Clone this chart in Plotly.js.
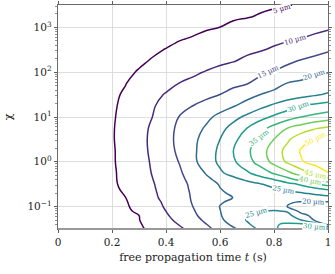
<!DOCTYPE html>
<html><head><meta charset="utf-8">
<script src="https://cdn.plot.ly/plotly-3.0.1.min.js"></script>
<style>html,body{margin:0;padding:0;background:#fff}#chart{width:335px;height:274px}</style>
</head><body><div id="chart"></div>
<script>
// free propagation time t (s)
const propagationTime = [0, 0.1, 0.2, 0.25, 0.3, 0.35, 0.4, 0.45, 0.5, 0.55, 0.6, 0.65, 0.7, 0.75, 0.8, 0.85, 0.9, 0.95, 1];
// log10(chi)
const logChi = [-1.5, -1.4, -1.3, -1.2, -1.1, -1.0, -0.9, -0.8, -0.7, -0.6, -0.5, -0.4, -0.25, 0, 0.25, 0.5, 0.75, 1, 1.25, 1.5, 1.75, 2, 2.25, 2.5, 2.75, 3, 3.25, 3.5];
// cloud size (µm), one row per logChi value
const cloudSize = [
  [1, 2.2, 3.4, 4.0, 4.6, 5.6, 7.5, 9.3, 11.3, 13.9, 16.5, 19.3, 22.5, 26.0, 29.6, 31.2, 32.0, 32.3, 32.5],
  [1, 2.2, 3.5, 4.1, 4.7, 6.1, 8.2, 10.2, 12.6, 14.9, 17.9, 21.0, 24.3, 27.0, 29.5, 30.8, 31.0, 29.0, 19.0],
  [1, 2.3, 3.6, 4.2, 4.9, 6.7, 8.9, 11.1, 13.4, 15.9, 19.1, 22.2, 25.3, 27.5, 29.0, 28.0, 25.0, 19.5, 17.6],
  [1, 2.3, 3.7, 4.3, 4.98, 7.3, 9.5, 11.8, 14.1, 16.8, 19.7, 22.1, 24.5, 26.5, 27.5, 26.5, 21.9, 18.5, 17.0],
  [1, 2.4, 3.8, 4.5, 5.5, 7.7, 10.02, 12.3, 14.6, 17.2, 19.9, 22.2, 23.7, 24.6, 25.4, 24.5, 18.5, 17.5, 17.2],
  [1, 2.4, 3.9, 4.6, 6.0, 8.2, 10.5, 12.7, 15.02, 17.6, 20.1, 21.6, 23.0, 23.4, 22.5, 19.9, 19.0, 18.5, 18.0],
  [1, 2.5, 4.0, 4.7, 6.5, 8.6, 10.8, 13.0, 15.3, 17.5, 19.7, 20.7, 21.4, 21.6, 21.2, 20.3, 19.8, 19.7, 19.6],
  [1, 2.6, 4.2, 4.97, 7.0, 9.1, 11.2, 13.4, 15.4, 17.0, 18.6, 20.1, 20.8, 21.0, 21.3, 21.8, 22.3, 22.9, 23.5],
  [1, 2.6, 4.3, 5.2, 7.2, 9.3, 11.4, 13.5, 15.5, 17.3, 19.5, 20.6, 21.3, 21.8, 22.5, 23.5, 24.6, 25.8, 27.0],
  [1, 2.7, 4.4, 5.5, 7.5, 9.5, 11.6, 13.6, 15.7, 17.9, 19.9, 21.2, 22.4, 23.6, 24.8, 26.2, 27.7, 29.2, 31.0],
  [1, 2.7, 4.5, 5.7, 7.7, 9.7, 11.6, 13.7, 15.9, 18.2, 20.3, 21.8, 23.2, 24.7, 26.5, 28.5, 30.6, 33.8, 37.0],
  [1, 2.7, 4.5, 5.9, 7.9, 9.9, 12.0, 14.0, 16.3, 19.0, 21.3, 23.5, 25.7, 27.8, 29.9, 33.1, 36.3, 39.4, 43.0],
  [1, 2.8, 4.5, 6.0, 8.1, 10.2, 12.3, 14.4, 17.2, 20.4, 24.2, 26.9, 29.3, 32.3, 35.6, 38.8, 42.5, 46.4, 49.8],
  [1, 2.8, 4.6, 6.2, 8.3, 10.5, 12.8, 15.2, 18.9, 22.5, 26.0, 29.3, 33.1, 37.1, 41.5, 45.8, 49.6, 51.6, 53.0],
  [1, 2.8, 4.6, 6.3, 8.5, 10.8, 13.3, 15.9, 19.1, 22.4, 26.0, 30.02, 34.0, 38.0, 42.3, 46.6, 50.4, 52.0, 53.5],
  [1, 2.8, 4.7, 6.4, 8.6, 10.9, 13.5, 16.2, 18.9, 21.9, 25.02, 28.8, 32.5, 36.2, 40.02, 44.2, 48.1, 50.5, 51.5],
  [1, 2.8, 4.7, 6.3, 8.4, 10.7, 13.4, 15.9, 18.2, 20.6, 23.5, 26.7, 30.02, 33.3, 36.7, 40.02, 42.3, 44.5, 46.0],
  [1, 2.8, 4.6, 6.1, 8.1, 10.02, 12.6, 15.2, 17.1, 19.0, 21.2, 23.6, 26.0, 28.5, 30.8, 32.9, 35.0, 36.3, 37.5],
  [1, 2.8, 4.5, 5.8, 7.7, 9.6, 11.4, 13.2, 15.02, 16.6, 18.1, 19.7, 21.7, 23.8, 25.8, 27.9, 30.02, 31.0, 32.0],
  [1, 2.7, 4.4, 5.4, 7.1, 8.8, 10.3, 11.5, 12.7, 13.8, 15.02, 16.7, 18.4, 20.02, 21.1, 22.2, 23.3, 24.4, 25.5],
  [1, 2.6, 4.1, 4.9, 6.2, 7.5, 8.8, 10.1, 11.0, 12.0, 12.9, 13.9, 14.8, 16.5, 18.5, 20.2, 20.9, 21.7, 22.5],
  [1, 2.4, 3.8, 4.5, 5.2, 6.2, 7.2, 8.3, 9.3, 10.3, 11.3, 12.3, 13.2, 14.2, 15.2, 16.4, 17.6, 18.8, 19.9],
  [1, 2.2, 3.4, 4.0, 4.6, 5.2, 6.0, 6.8, 7.5, 8.3, 9.1, 9.8, 10.9, 12.0, 13.2, 14.3, 15.3, 16.2, 17.0],
  [1, 2.0, 3.1, 3.6, 4.1, 4.6, 5.1, 5.8, 6.4, 7.1, 7.8, 8.4, 9.1, 9.7, 10.6, 11.6, 12.5, 13.5, 14.5],
  [1, 1.8, 2.7, 3.1, 3.5, 3.9, 4.3, 4.8, 5.2, 5.8, 6.4, 7.0, 7.6, 8.2, 8.8, 9.4, 10.02, 10.8, 11.5],
  [1, 1.7, 2.3, 2.7, 3.0, 3.3, 3.7, 4.0, 4.3, 4.7, 5.02, 5.6, 6.1, 6.7, 7.3, 7.8, 8.4, 8.9, 9.5],
  [1, 1.5, 2.1, 2.4, 2.6, 2.9, 3.2, 3.5, 3.7, 4.0, 4.3, 4.6, 4.8, 5.2, 5.6, 6.1, 6.6, 7.0, 7.5],
  [1, 1.5, 1.9, 2.2, 2.4, 2.6, 2.8, 3.1, 3.3, 3.5, 3.8, 4.0, 4.2, 4.5, 4.7, 4.9, 5.2, 5.5, 5.8]
];
const contourLevels = [5, 10, 15, 20, 25, 30, 35, 40, 45, 50];
const xTickVals = [0, 0.2, 0.4, 0.6, 0.8, 1];
const xTickText = ['0', '0.2', '0.4', '0.6', '0.8', '1'];
const yTickVals = [-1, 0, 1, 2, 3];
const yTickText = ['10<sup>−1</sup>', '10<sup>0</sup>', '10<sup>1</sup>', '10<sup>2</sup>', '10<sup>3</sup>'];
// inline contour labels (level of each label)
const labelLevel = [5, 10, 15, 20, 30, 35, 50, 45, 40, 25, 25, 20, 30];

// ---- styling ----
const levelColors = ['#440154', '#482878', '#3e4989', '#31688e', '#26828e', '#1f9e89', '#35b779', '#6ece58', '#b5de2b', '#fde725'];
const colorscale = levelColors.map((c, i) => [i / (levelColors.length - 1), c]);
const labelPlacement = [
  [0.83, 3.40, -16], [0.88, 2.71, -16], [0.78, 2.0, -25], [0.95, 1.93, -18],
  [0.89, 1.22, -18], [0.745, 0.53, -38], [0.955, 0.52, -28], [0.955, -0.3, 14],
  [0.935, -0.42, 10], [0.835, -0.64, 10], [0.735, -1.14, -15], [0.945, -0.89, 2], [0.95, -1.45, 5]
];
const minorVals = [];
for (let d = -2; d <= 3; d++) for (let k = 2; k <= 9; k++) {
  const v = d + Math.log10(k);
  if (v > -1.5 && v < 3.5) minorVals.push(v);
}
const serif = 'DejaVu Serif, serif';
const annotations = labelLevel.map((lv, i) => ({
  x: labelPlacement[i][0], y: labelPlacement[i][1], xref: 'x', yref: 'y',
  text: lv + ' µm', showarrow: false, textangle: labelPlacement[i][2],
  font: {family: serif, size: 7, color: levelColors[contourLevels.indexOf(lv)]},
  bgcolor: 'rgba(255,255,255,1)', borderpad: 0
}));

const trace = {
  type: 'contour', x: propagationTime, y: logChi, z: cloudSize,
  autocontour: false,
  contours: {start: contourLevels[0], end: contourLevels[contourLevels.length - 1], size: contourLevels[1] - contourLevels[0], coloring: 'lines', showlabels: false},
  colorscale: colorscale, showscale: false,
  line: {width: 1.5, smoothing: 1.2},
  hoverinfo: 'skip'
};

const layout = {
  width: 335, height: 274,
  margin: {l: 58, r: 7, t: 5, b: 45},
  paper_bgcolor: '#fff', plot_bgcolor: '#fff',
  font: {family: serif, size: 10, color: '#222'},
  showlegend: false,
  xaxis: {
    range: [0, 1], tickvals: xTickVals, ticktext: xTickText,
    ticks: 'outside', ticklen: 3.5, tickwidth: 0.8, tickcolor: '#333',
    showline: true, linecolor: '#444', linewidth: 0.8, mirror: 'ticks',
    showgrid: true, gridcolor: '#d4d4d4', gridwidth: 0.8, zeroline: false,
    tickfont: {family: serif, size: 10.5, color: '#222'},
    title: {text: 'free propagation time <i>t</i> (s)', font: {family: serif, size: 11, color: '#222'}, standoff: 6}
  },
  yaxis: {
    range: [-1.5, 3.5], tickvals: yTickVals, ticktext: yTickText,
    ticks: 'outside', ticklen: 3.5, tickwidth: 0.8, tickcolor: '#333',
    minor: {tickvals: minorVals, ticks: 'outside', ticklen: 2, tickwidth: 0.6, tickcolor: '#444', showgrid: false},
    showline: true, linecolor: '#444', linewidth: 0.8, mirror: 'ticks',
    showgrid: true, gridcolor: '#d4d4d4', gridwidth: 0.8, zeroline: false,
    tickfont: {family: serif, size: 10.5, color: '#222'},
    title: {text: 'χ', font: {family: serif, size: 11, color: '#222'}, standoff: 12}
  },
  shapes: [{type: 'line', xref: 'paper', yref: 'paper', x0: 0, x1: 1, y0: 0, y1: 0, line: {color: '#999', width: 2}}],
  annotations: annotations
};

Plotly.newPlot('chart', [trace], layout, {staticPlot: true, displayModeBar: false});
</script>
</body></html>
